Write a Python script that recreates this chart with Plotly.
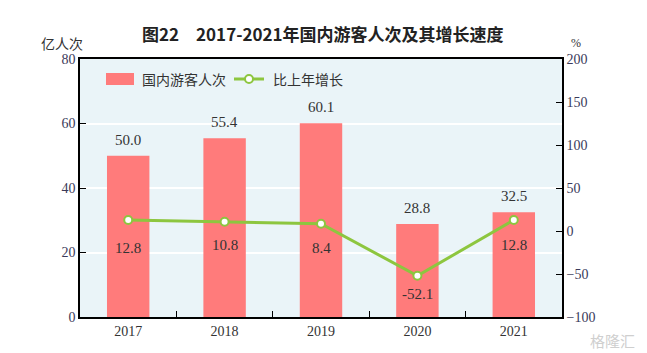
import plotly.graph_objects as go

years = ["2017", "2018", "2019", "2020", "2021"]
visitors = [50.0, 55.4, 60.1, 28.8, 32.5]
growth = [12.8, 10.8, 8.4, -52.1, 12.8]
growth_shift = [-28, -23, -24, -18, -25]

num_font = "Liberation Serif, Noto Sans CJK SC"
cjk_font = "Noto Sans CJK SC"
txt = "#333333"
bar_color = "#FF7B7B"
line_color = "#8DC63F"

# plot area in pixels
L, R, T, B = 80, 562, 59, 317
def px(x):
    return (x - L) / (R - L)
def py(y):
    return (B - y) / (B - T)

fig = go.Figure()
fig.add_trace(go.Bar(
    x=years, y=visitors, name="国内游客人次",
    marker=dict(color=bar_color, line=dict(width=0)),
    width=0.44, showlegend=False,
))
fig.add_trace(go.Scatter(
    x=years, y=growth, name="比上年增长", yaxis="y2",
    mode="lines+markers",
    line=dict(color=line_color, width=3),
    marker=dict(color="white", size=8, line=dict(color=line_color, width=2)),
    showlegend=False,
))
for i, v in enumerate(visitors):
    fig.add_annotation(x=i, y=v, xref="x", yref="y", text=f"{v:.1f}", showarrow=False,
                       yanchor="bottom", yshift=6,
                       font=dict(family=num_font, size=15, color=txt))
for i, (g, s) in enumerate(zip(growth, growth_shift)):
    fig.add_annotation(x=i, y=g, xref="x", yref="y2", text=f"{g:.1f}", showarrow=False,
                       yshift=s, font=dict(family=num_font, size=15, color=txt))

# custom legend
fig.add_shape(type="rect", xref="paper", yref="paper",
              x0=px(106), x1=px(134), y0=py(85), y1=py(73),
              fillcolor=bar_color, line=dict(width=0))
fig.add_annotation(xref="paper", yref="paper", x=px(140), y=py(79),
                   xanchor="left", yanchor="middle", text="国内游客人次",
                   showarrow=False, font=dict(family=cjk_font, size=14, color=txt))
fig.add_shape(type="line", xref="paper", yref="paper",
              x0=px(234), x1=px(264), y0=py(79), y1=py(79),
              line=dict(color=line_color, width=3))
fig.add_shape(type="circle", xref="paper", yref="paper",
              x0=px(245), x1=px(253), y0=py(83), y1=py(75),
              fillcolor="white", line=dict(color=line_color, width=2))
fig.add_annotation(xref="paper", yref="paper", x=px(271), y=py(79),
                   xanchor="left", yanchor="middle", text="比上年增长",
                   showarrow=False, font=dict(family=cjk_font, size=14, color=txt))

fig.add_annotation(xref="paper", yref="paper", x=px(323), y=py(33),
                   xanchor="center", yanchor="middle",
                   text="<b>图22　2017-2021年国内游客人次及其增长速度</b>",
                   showarrow=False, font=dict(family=cjk_font, size=17, color="#222"))
fig.add_annotation(xref="paper", yref="paper", x=px(62), y=py(43),
                   xanchor="center", yanchor="middle",
                   text="亿人次", showarrow=False,
                   font=dict(family=cjk_font, size=14, color=txt))
fig.add_annotation(xref="paper", yref="paper", x=px(576), y=py(43),
                   xanchor="center", yanchor="middle",
                   text="%", showarrow=False,
                   font=dict(family=num_font, size=12, color=txt))
fig.add_annotation(xref="paper", yref="paper", x=px(612), y=py(340),
                   xanchor="center", yanchor="middle",
                   text="格隆汇", showarrow=False,
                   font=dict(family=cjk_font, size=15, color="#cfcfcf"))

fig.update_layout(
    width=647, height=353,
    margin=dict(l=L, r=647 - R, t=T, b=353 - B),
    paper_bgcolor="white", plot_bgcolor="#EAF4F8",
    showlegend=False,
    xaxis=dict(type="category", range=[-0.5, 4.5], autorange=False,
               showline=True, linecolor="black", linewidth=1.5,
               mirror=True, ticks="inside", tickson="boundaries",
               ticklen=6, tickcolor="black",
               tickfont=dict(family=num_font, size=14, color=txt),
               showgrid=False),
    yaxis=dict(range=[0, 80], dtick=20, showline=True, linecolor="black",
               linewidth=1.5, ticks="inside", ticklen=6, tickcolor="black",
               gridcolor="white", gridwidth=1.5, zeroline=False,
               tickfont=dict(family=num_font, size=14, color="#3a3a5a")),
    yaxis2=dict(range=[-100, 200], dtick=50, overlaying="y", side="right",
                showline=True, linecolor="black", linewidth=1.5,
                ticks="inside", ticklen=6, tickcolor="black",
                showgrid=False, zeroline=False,
                tickfont=dict(family=num_font, size=14, color="#3a3a5a")),
)

fig.write_html("out.html")
